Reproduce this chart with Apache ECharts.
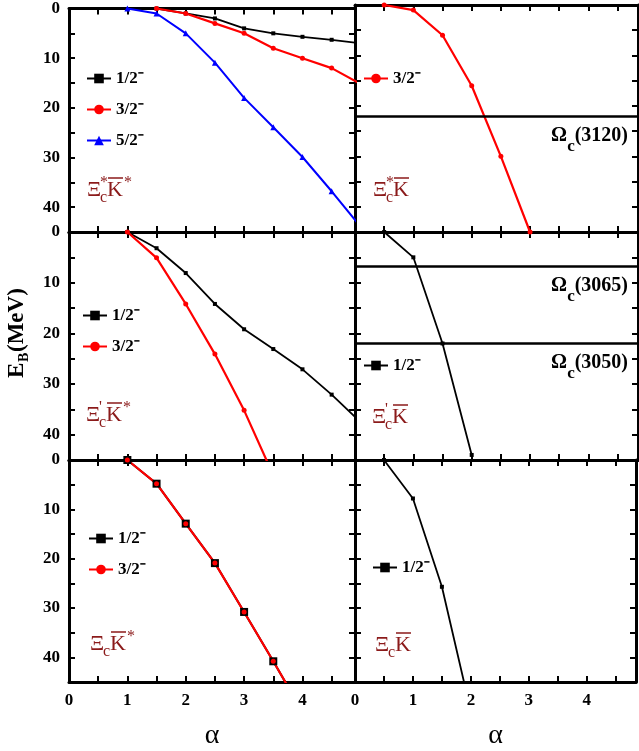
<!DOCTYPE html>
<html>
<head>
<meta charset="utf-8">
<script src="https://cdn.jsdelivr.net/npm/echarts@6/dist/echarts.min.js"></script>
<style>
  html, body { margin: 0; padding: 0; background: #fff; }
  #main { width: 639px; height: 751px; }
</style>
</head>
<body>
<div id="main"></div>
<script>
const FONT = '"Liberation Serif", "Times New Roman", serif';
const DARK_RED = '#8b1a1a';

// tick labels
const xTickLabels = [0, 1, 2, 3, 4];
const yTickLabels = [0, 10, 20, 30, 40];

// Xi_c* Kbar*
const starStarAlphaA = [1.5, 2, 2.5, 3, 3.5, 4, 4.5, 5];
const starStarHalf = [0, 1, 2, 4, 5, 5.7, 6.3, 7];
const starStarThreeHalf = [0, 1, 3, 5, 8, 10, 12, 15.2];
const starStarAlphaB = [1, 1.5, 2, 2.5, 3, 3.5, 4, 4.5, 5];
const starStarFiveHalf = [0, 1, 5, 10.9, 18, 23.9, 29.9, 36.8, 44];

// Xi_c* Kbar
const starKAlpha = [0.5, 1, 1.5, 2, 2.5, 3];
const starKThreeHalf = [0, 1, 6, 16, 30, 45];
const omega3120 = 22;

// Xi'_c Kbar*
const primeStarAlphaA = [1, 1.5, 2, 2.5, 3, 3.5, 4, 4.5, 5];
const primeStarHalf = [0, 3.2, 8.1, 14.2, 19.2, 23.1, 27.1, 32.1, 37.6];
const primeStarAlphaB = [1, 1.5, 2, 2.5, 3, 3.5];
const primeStarThreeHalf = [0, 5.1, 14.2, 24.1, 35.2, 48];

// Xi'_c Kbar
const primeKAlpha = [0.5, 1, 1.5, 2];
const primeKHalf = [0, 5, 22, 44];
const omega3065 = 6.7;
const omega3050 = 21.9;

// Xi_c Kbar*
const plainStarAlpha = [1, 1.5, 2, 2.5, 3, 3.5, 4];
const plainStarHalf = [0, 4.8, 12.9, 20.9, 30.8, 40.8, 51];
const plainStarThreeHalf = [0, 4.8, 12.9, 20.9, 30.8, 40.8, 51];

// Xi_c Kbar
const plainKAlpha = [0.5, 1, 1.5, 2];
const plainKHalf = [0, 7.8, 25.7, 51];

const HALF = '1/2\u207B';
const THREE_HALF = '3/2\u207B';
const FIVE_HALF = '5/2\u207B';

const colLeft = [69, 355];
const colWidth = [286, 283];
const colMax = [4.9, 4.85];
const rowTop = [5, 232, 460];
const rowHeight = [227, 228, 227];

let grids = [], xAxes = [], yAxes = [];
for (let r = 0; r < 3; r++) {
  for (let c = 0; c < 2; c++) {
    const g = grids.length;
    grids.push({ left: colLeft[c], top: rowTop[r], width: colWidth[c], height: rowHeight[r] });
    const showX = r === 2, showY = c === 0;
    ['bottom', 'top'].forEach(pos => {
      xAxes.push({
        gridIndex: g, type: 'value', position: pos, min: 0, max: colMax[c], interval: 0.5,
        axisLine: { onZero: false, lineStyle: { color: '#000', width: 3 } },
        axisTick: { inside: true, length: 6, lineStyle: { color: '#000', width: 2 } },
        splitLine: { show: false },
        axisLabel: {
          show: showX && pos === 'bottom', margin: 10, color: '#000',
          fontFamily: FONT, fontWeight: 'bold', fontSize: 17,
          formatter: v => xTickLabels.includes(v) ? String(v) : ''
        },
        name: showX && pos === 'bottom' ? '\u03B1' : '',
        nameLocation: 'middle', nameGap: 40,
        nameTextStyle: { fontFamily: FONT, fontSize: 28, color: '#000' }
      });
    });
    ['left', 'right'].forEach(pos => {
      yAxes.push({
        gridIndex: g, type: 'value', position: pos, inverse: true, min: 0, max: 45, interval: 5,
        axisLine: { onZero: false, lineStyle: { color: '#000', width: 3 } },
        axisTick: { inside: true, length: 6, lineStyle: { color: '#000', width: 2 } },
        splitLine: { show: false },
        axisLabel: {
          show: showY && pos === 'left', margin: 9, color: '#000',
          fontFamily: FONT, fontWeight: 'bold', fontSize: 17,
          formatter: v => yTickLabels.includes(v) ? String(v) : ''
        }
      });
    });
  }
}

function curve(name, g, xs, ys, color, symbol, size, width) {
  return {
    name, type: 'line', xAxisIndex: g * 2, yAxisIndex: g * 2,
    data: xs.map((x, i) => [x, ys[i]]),
    symbol, symbolSize: size, showSymbol: true, color,
    lineStyle: { color, width }, itemStyle: { color },
    emphasis: { disabled: true }
  };
}

const omegaRich = {
  o: { fontFamily: FONT, fontWeight: 'bold', fontSize: 20, color: '#000', verticalAlign: 'top' },
  s: { fontFamily: FONT, fontWeight: 'bold', fontSize: 17, color: '#000', verticalAlign: 'bottom', padding: [12, 0, 0, 0] }
};
function omegaLine(val, tag) {
  return {
    yAxis: val,
    label: { formatter: '{o|\u03A9}{s|c}{o|(' + tag + ')}' }
  };
}
const markLineBase = {
  silent: true, symbol: 'none', animation: false,
  lineStyle: { color: '#000', width: 2.5, type: 'solid' },
  label: { position: 'insideEndBottom', distance: [10, 10], rich: omegaRich }
};

const series = [
  curve(HALF, 0, starStarAlphaA, starStarHalf, '#000', 'rect', 4, 1.8),
  curve(THREE_HALF, 0, starStarAlphaA, starStarThreeHalf, '#ff0000', 'circle', 5, 2.2),
  curve(FIVE_HALF, 0, starStarAlphaB, starStarFiveHalf, '#0000ff', 'triangle', 6, 2),
  Object.assign(curve(THREE_HALF, 1, starKAlpha, starKThreeHalf, '#ff0000', 'circle', 5, 2.2), {
    markLine: Object.assign({}, markLineBase, { data: [omegaLine(omega3120, '3120')] })
  }),
  curve(HALF, 2, primeStarAlphaA, primeStarHalf, '#000', 'rect', 4, 1.8),
  curve(THREE_HALF, 2, primeStarAlphaB, primeStarThreeHalf, '#ff0000', 'circle', 5, 2.2),
  Object.assign(curve(HALF, 3, primeKAlpha, primeKHalf, '#000', 'rect', 4, 1.8), {
    markLine: Object.assign({}, markLineBase, { data: [omegaLine(omega3065, '3065'), omegaLine(omega3050, '3050')] })
  }),
  curve(HALF, 4, plainStarAlpha, plainStarHalf, '#000', 'rect', 8, 2),
  curve(THREE_HALF, 4, plainStarAlpha, plainStarThreeHalf, '#ff0000', 'circle', 5, 2.2),
  curve(HALF, 5, plainKAlpha, plainKHalf, '#000', 'rect', 4, 1.8)
];

function panelLegend(names, left, top) {
  return {
    data: names, left, top, orient: 'vertical', itemWidth: 24, itemHeight: 12, itemGap: 14,
    selectedMode: false, padding: 0,
    textStyle: { fontFamily: FONT, fontWeight: 'bold', fontSize: 17, color: '#000' }
  };
}

function panelLabel(x, y, mid, tail) {
  const t = (tx, ty, text, size) => ({
    type: 'text', x: tx, y: ty, silent: true,
    style: { text, fontFamily: FONT, fontSize: size, fill: DARK_RED, verticalAlign: 'middle' }
  });
  const els = [
    t(x, y, '\u039E', 22),
    t(x + 13, y + 8, 'c', 16),
    t(x + 20, y, 'K', 22),
    { type: 'line', silent: true, shape: { x1: x + 21, y1: y - 12, x2: x + 36, y2: y - 12 },
      style: { stroke: DARK_RED, lineWidth: 1.5 } }
  ];
  if (mid) els.push(t(x + 13, y - 7, mid, 16));
  if (tail) els.push(t(x + 37, y - 7, tail, 16));
  return { type: 'group', children: els };
}

const yName = {
  type: 'group', x: 17, y: 330, rotation: Math.PI / 2, silent: true,
  children: [
    { type: 'text', x: -48, y: 0, style: { text: 'E', fontFamily: FONT, fontWeight: 'bold', fontSize: 23, fill: '#000', verticalAlign: 'middle' } },
    { type: 'text', x: -32, y: 7, style: { text: 'B', fontFamily: FONT, fontWeight: 'bold', fontSize: 14, fill: '#000', verticalAlign: 'middle' } },
    { type: 'text', x: -22, y: 0, style: { text: '(MeV)', fontFamily: FONT, fontWeight: 'bold', fontSize: 23, fill: '#000', verticalAlign: 'middle' } }
  ]
};

const chart = echarts.init(document.getElementById('main'));
chart.setOption({
  animation: false,
  backgroundColor: '#fff',
  grid: grids,
  xAxis: xAxes,
  yAxis: yAxes,
  legend: [
    panelLegend([HALF, THREE_HALF, FIVE_HALF], 86, 70),
    panelLegend([THREE_HALF], 363, 70),
    panelLegend([HALF, THREE_HALF], 82, 307),
    panelLegend([HALF], 363, 357),
    panelLegend([HALF, THREE_HALF], 88, 530),
    panelLegend([HALF], 372, 559)
  ],
  graphic: [
    panelLabel(87, 190, '*', '*'),
    panelLabel(373, 190, '*', ''),
    panelLabel(86, 415, "'", '*'),
    panelLabel(372, 417, "'", ''),
    panelLabel(90, 644, '', '*'),
    panelLabel(375, 645, '', ''),
    yName
  ],
  series
});
</script>
</body>
</html>
